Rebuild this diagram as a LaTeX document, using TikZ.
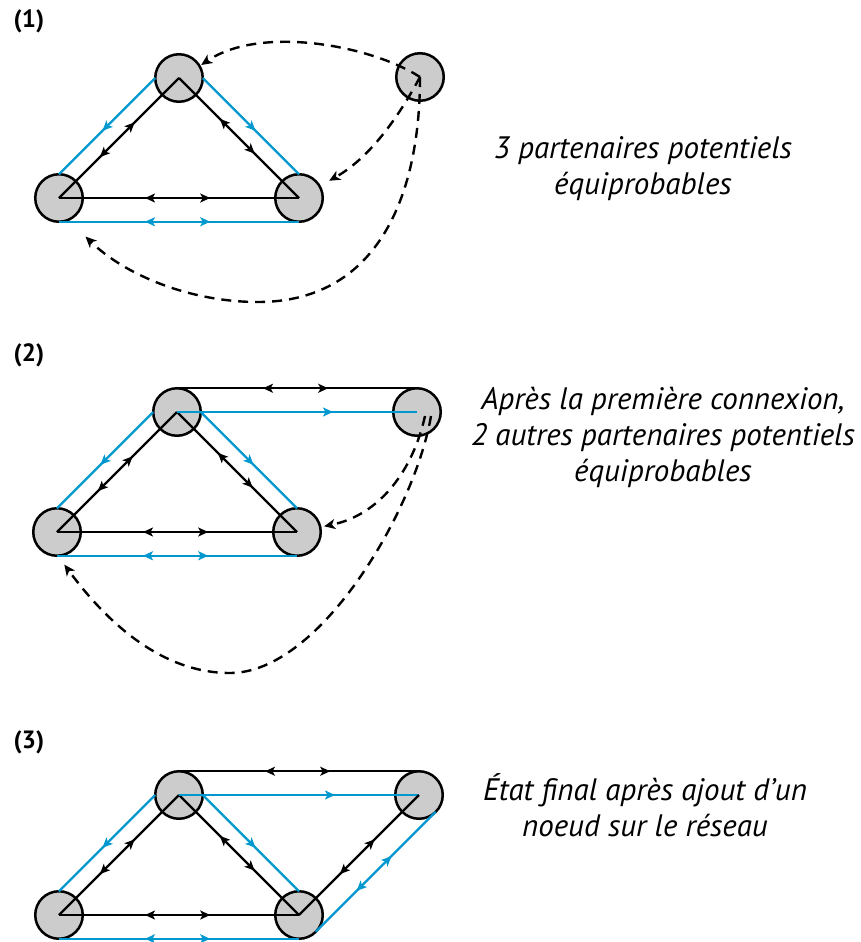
\documentclass[tikz,border=0pt]{standalone}
\usepackage{fontspec}
\setmainfont{PT Sans}
\usetikzlibrary{arrows.meta,decorations.markings}
\definecolor{netblue}{RGB}{0,152,206}
\definecolor{nodegray}{RGB}{204,204,204}
\tikzset{
  nd/.style={circle, draw=black, line width=2.5pt, fill=nodegray, minimum size=47.5pt, inner sep=0pt, outer sep=0pt},
  blk/.style={line width=2.3pt, black},
  blu/.style={line width=2.3pt, netblue},
  twoway/.style={postaction={decorate}, decoration={markings,
      mark=at position 0.4 with {\arrow{Stealth[length=10pt,width=9pt,inset=2.5pt,reversed]}},
      mark=at position 0.63 with {\arrow{Stealth[length=10pt,width=9pt,inset=2.5pt]}}}},
  oneway/.style={postaction={decorate}, decoration={markings,
      mark=at position #1 with {\arrow{Stealth[length=10pt,width=9pt,inset=2.5pt]}}}},
  dsh/.style={black, line width=2.4pt, dash pattern=on 10pt off 7pt, -{Stealth[length=11pt,width=10pt,inset=3pt]}},
  lbl/.style={font=\fontsize{25}{30}\selectfont\bfseries, inner sep=0pt},
  txt/.style={font=\fontsize{31}{36}\selectfont\itshape, align=center, inner sep=0pt}
}
\begin{document}
\begin{tikzpicture}[x=1pt,y=-1pt]
\useasboundingbox (0,0) rectangle (860,942);

% ---------- Panel 1 ----------
\node[lbl] (lab1) at (29,21) {(1)};
\node[nd] (t1) at (179,78) {};
\node[nd] (l1) at (59,198) {};
\node[nd] (r1) at (299,198) {};
\node[nd] (f1) at (420,77) {};
\draw[blk,twoway] (l1.center) -- (t1.center);
\draw[blk,twoway] (t1.center) -- (r1.center);
\draw[blk,twoway] (l1.center) -- (r1.center);
\draw[blu,oneway=0.55] (t1.west) -- (l1.north);
\draw[blu,oneway=0.55] (t1.east) -- (r1.north);
\draw[blu,twoway] (l1.south) -- (r1.south);
\draw[dsh,shorten >=2pt] (f1.center) .. controls (370,45) and (260,25) .. (t1.30);
\draw[dsh,shorten >=11pt] (f1.center) .. controls (405,105) and (375,155) .. (r1.30);
\draw[dsh,shorten >=24pt] (f1.center) .. controls (420,200) and (375,302) .. (258,302)
      .. controls (190,302) and (125,275) .. (l1.-67);
\node[txt] (txt1) at (643,169) {3 partenaires potentiels\\équiprobables};

% ---------- Panel 2 ----------
\node[lbl] (lab2) at (29,355) {(2)};
\node[nd] (t2) at (177,412) {};
\node[nd] (l2) at (57,532) {};
\node[nd] (r2) at (297,532) {};
\node[nd] (f2) at (417,412) {};
\draw[blk,twoway] (l2.center) -- (t2.center);
\draw[blk,twoway] (t2.center) -- (r2.center);
\draw[blk,twoway] (l2.center) -- (r2.center);
\draw[blu,oneway=0.55] (t2.west) -- (l2.north);
\draw[blu,oneway=0.55] (t2.east) -- (r2.north);
\draw[blu,twoway] (l2.south) -- (r2.south);
\draw[blk,twoway] (t2.north) -- (f2.north);
\draw[blu,oneway=0.65] (t2.center) -- (f2.center);
\draw[dsh,shorten >=4pt] ([shift={(8,4)}]f2.center) .. controls (413,470) and (380,515) .. (r2.12);
\draw[dsh,shorten >=11pt] ([shift={(14,4)}]f2.center) .. controls (415,510) and (320,673) .. (230,673)
      .. controls (160,673) and (105,620) .. (l2.-88);
\node[txt] (txt2) at (663,437) {Après la première connexion,\\2 autres partenaires potentiels\\équiprobables};

% ---------- Panel 3 ----------
\node[lbl] (lab3) at (29,742) {(3)};
\node[nd] (t3) at (179,795) {};
\node[nd] (l3) at (59,915) {};
\node[nd] (r3) at (299,915) {};
\node[nd] (f3) at (419,795) {};
\draw[blk,twoway] (l3.center) -- (t3.center);
\draw[blk,twoway] (t3.center) -- (r3.center);
\draw[blk,twoway] (l3.center) -- (r3.center);
\draw[blu,oneway=0.55] (t3.west) -- (l3.north);
\draw[blu,oneway=0.55] (t3.east) -- (r3.north);
\draw[blu,twoway] (l3.south) -- (r3.south);
\draw[blk,twoway] (t3.north) -- (f3.north);
\draw[blu,oneway=0.65] (t3.center) -- (f3.center);
\draw[blk,twoway] (r3.center) -- (f3.center);
\draw[blu,twoway] (r3.south east) -- (f3.south east);
\node[txt] (txt3) at (645,805) {État final après ajout d’un\\noeud sur le réseau};
\end{tikzpicture}
\end{document}
